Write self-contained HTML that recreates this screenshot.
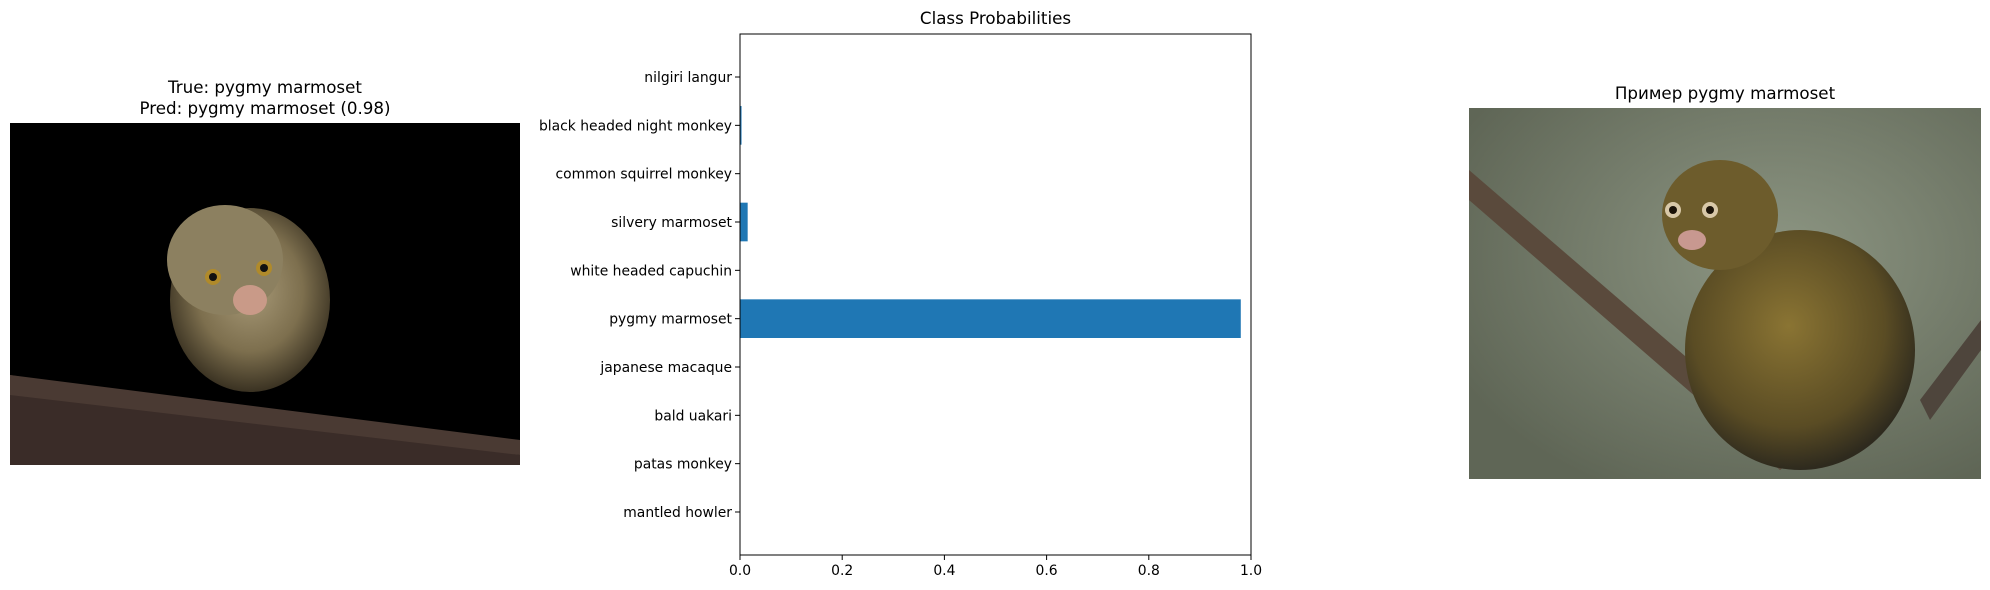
<!DOCTYPE html>
<html><head><meta charset="utf-8"><style>
body{margin:0;background:#fff;}
svg{display:block;font-family:"DejaVu Sans","Liberation Sans",sans-serif;}
</style></head><body>
<svg id="fig" width="1990" height="590" viewBox="0 0 1990 590" xmlns="http://www.w3.org/2000/svg">
<defs>
<radialGradient id="furL" cx="50%" cy="45%" r="55%"><stop offset="0" stop-color="#a89a78"/><stop offset="0.6" stop-color="#7d6f4e"/><stop offset="1" stop-color="#3a3222"/></radialGradient>
<radialGradient id="bgR" cx="60%" cy="40%" r="70%"><stop offset="0" stop-color="#8d9683"/><stop offset="1" stop-color="#5f6656"/></radialGradient>
<radialGradient id="furR" cx="45%" cy="40%" r="60%"><stop offset="0" stop-color="#8a7433"/><stop offset="0.7" stop-color="#5a4c24"/><stop offset="1" stop-color="#2e2a1e"/></radialGradient>
</defs>
<!-- left image -->
<g>
<text x="265" y="93" font-size="16.7" text-anchor="middle">True: pygmy marmoset</text>
<text x="265" y="114" font-size="16.7" text-anchor="middle">Pred: pygmy marmoset (0.98)</text>
<rect x="10" y="123" width="510" height="342" fill="#000"/>
<polygon points="10,375 520,455 520,465 10,465" fill="#3a2c28"/>
<polygon points="10,375 520,440 520,455 10,395" fill="#4a3a33"/>
<ellipse cx="250" cy="300" rx="80" ry="92" fill="url(#furL)"/>
<ellipse cx="225" cy="260" rx="58" ry="55" fill="#8c8060"/>
<circle cx="213" cy="277" r="8" fill="#b08a2a"/><circle cx="213" cy="277" r="4" fill="#111"/>
<circle cx="264" cy="268" r="8" fill="#b08a2a"/><circle cx="264" cy="268" r="4" fill="#111"/>
<ellipse cx="250" cy="300" rx="17" ry="15" fill="#c99a88"/>
</g>
<!-- bar chart -->
<g id="chart">
<text x="995.5" y="24" font-size="16.7" text-anchor="middle">Class Probabilities</text>
</g>
<!-- right image -->
<g>
<text x="1725" y="99" font-size="16.7" text-anchor="middle">Пример pygmy marmoset</text>
<rect x="1469" y="108" width="512" height="371" fill="url(#bgR)"/>
<polygon points="1469,200 1780,470 1800,455 1469,170" fill="#5a4a3c"/>
<polygon points="1920,400 1981,320 1981,350 1930,420" fill="#4e453c"/>
<ellipse cx="1800" cy="350" rx="115" ry="120" fill="url(#furR)"/>
<ellipse cx="1720" cy="215" rx="58" ry="55" fill="#6d5c2c"/>
<circle cx="1673" cy="210" r="8" fill="#d8c8a8"/><circle cx="1673" cy="210" r="4" fill="#1a1208"/>
<circle cx="1710" cy="210" r="8" fill="#d8c8a8"/><circle cx="1710" cy="210" r="4" fill="#1a1208"/>
<ellipse cx="1692" cy="240" rx="14" ry="10" fill="#c89890"/>
</g>
</svg>
<script>
const categories=["mantled howler","patas monkey","bald uakari","japanese macaque","pygmy marmoset","white headed capuchin","silvery marmoset","common squirrel monkey","black headed night monkey","nilgiri langur"];
const probabilities=[0.0002,0.0002,0.0002,0.0003,0.98,0.0003,0.015,0.0003,0.003,0.0002];
const xTicks=[0,0.2,0.4,0.6,0.8,1.0];
const xTickLabels=["0.0","0.2","0.4","0.6","0.8","1.0"];

const NS="http://www.w3.org/2000/svg";
const g=document.getElementById('chart');
const L=740,R=1251,T=34,B=555;
const yMin=-0.89,yMax=categories.length-1+0.89;
const xs=v=>L+(v-0)/(1-0)*(R-L);
const ys=v=>B-(v-yMin)/(yMax-yMin)*(B-T);
const unit=(B-T)/(yMax-yMin);
function mk(tag,attrs){const e=document.createElementNS(NS,tag);for(const k in attrs)e.setAttribute(k,attrs[k]);g.appendChild(e);return e;}
probabilities.forEach((p,i)=>{
  const r=mk('rect',{x:xs(0),y:ys(i)-0.4*unit,width:Math.max(0,xs(p)-xs(0)),height:0.8*unit,fill:'#1f77b4'});
  
  
  const t=mk('line',{x1:L-5,x2:L,y1:ys(i),y2:ys(i),stroke:'#000','stroke-width':1});
  
  
  const lb=mk('text',{x:L-8,y:ys(i)+5,'font-size':13.9,'text-anchor':'end'});
  lb.textContent=categories[i];
  
  
});
xTicks.forEach((v,i)=>{
  const t=mk('line',{x1:xs(v),x2:xs(v),y1:B,y2:B+5,stroke:'#000','stroke-width':1});
  
  
  const lb=mk('text',{x:xs(v),y:B+20,'font-size':13.9,'text-anchor':'middle'});
  lb.textContent=xTickLabels[i];
  
  
});
const frame=mk('rect',{x:L,y:T,width:R-L,height:B-T,fill:'none',stroke:'#000','stroke-width':1});


</script>
</body></html>
